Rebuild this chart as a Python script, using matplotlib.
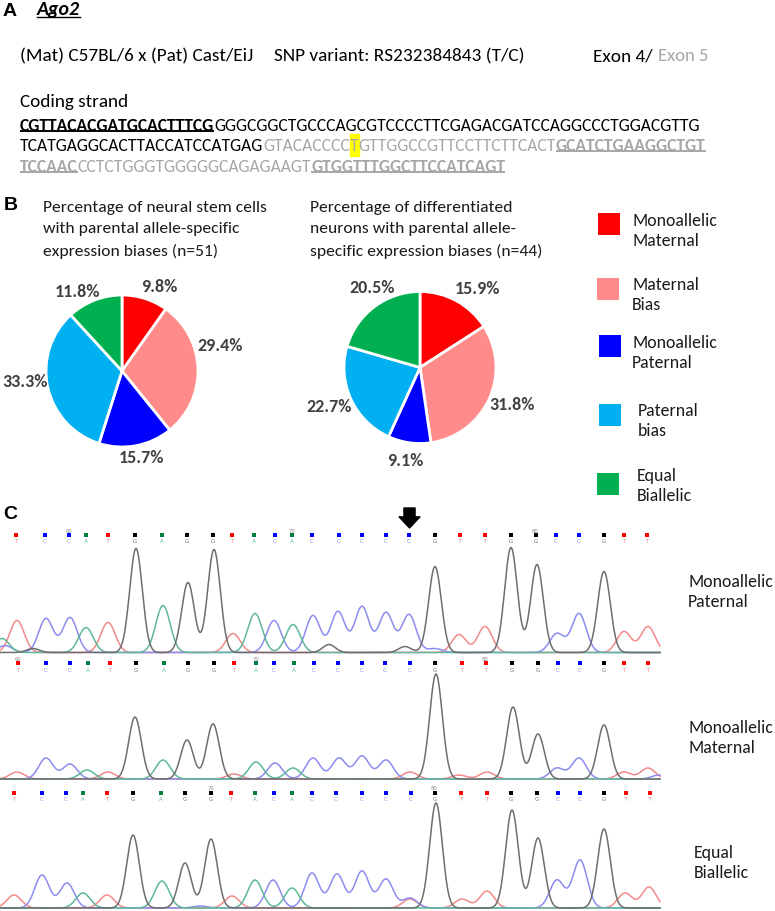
import logging
import numpy as np
import matplotlib
matplotlib.use("Agg")
import matplotlib.pyplot as plt
from matplotlib.patches import Rectangle

logging.getLogger("matplotlib.font_manager").setLevel(logging.ERROR)

W, H = 775, 912
BODY = ["Carlito", "Lato"]

# ---------- data ----------
legend_labels = ["Monoallelic\nMaternal", "Maternal\nBias", "Monoallelic\nPaternal", "Paternal\nbias", "Equal\nBiallelic"]
pie_colors = ["#FF0000", "#FF8B8B", "#0000FF", "#00B0F0", "#00B050"]
nsc_values = [9.8, 29.4, 15.7, 33.3, 11.8]
neuron_values = [15.9, 31.8, 9.1, 22.7, 20.5]

bases = list("TCCATGAGGTACACCCCCGTTGGCCGTT")
base_colors = {"T": "#FF0000", "C": "#0000FF", "A": "#008040", "G": "#000000"}
trace_colors = {"T": "#F28A8A", "C": "#8C8CF0", "A": "#5FB898", "G": "#6E6E6E"}

p1_calls = [16,45,69,86,108,135,162,187,213,232,254,275,292,312,339,362,386,409,435,460,485,511,536,556,579,604,624,647]
p2_calls = [18,46,70,88,110,136,164,188,214,234,256,274,294,314,338,362,385,410,435,462,486,512,538,558,580,604,624,648]
p3_calls = [14,42,66,83,107,133,161,185,211,231,255,274,292,312,336,362,386,411,435,461,487,511,537,558,580,604,626,650]

p1_T = ([17,108,233,459,485,624,648], [32,30,19,18,26,21,26])
p1_C = ([5,46,70,274,313,338,362,386,409,435,557,579], [7,34,35,32,37,41,46,40,38,4,19,39])
p1_A = ([2,86,163,255,293], [14,25,47,39,28])
p1_G = ([33,136,188,214,329,405,435,511,537,604], [4,104,70,103,8,6,86,105,88,81])

p2_T = ([17,108,234,410,459,487,624,648], [7,7,5,7,4,7,7,11])
p2_C = ([46,70,275,313,339,362,386,557,579,659], [21,15,16,21,21,23,19,11,21,4])
p2_A = ([87,163,256,293], [9,19,17,11])
p2_G = ([135,187,213,436,513,538,604], [62,39,55,105,72,45,54])

p3_T = ([14,107,232,410,462,487,625,649], [13,13,12,9,9,17,15,21])
p3_C = ([42,67,200,273,312,337,362,386,410,557,580], [33,25,2,28,35,34,37,29,10,28,48])
p3_A = ([83,162,255,292], [15,27,28,20])
p3_G = ([133,185,211,436,512,538,604], [73,45,69,105,98,70,79])

p1_numbers = [("60", 69), ("70", 292), ("80", 535)]
p2_numbers = [("60", 18), ("70", 256), ("80", 485)]
p3_numbers = [("70", 211), ("80", 434)]
side_labels = ["Monoallelic\nPaternal", "Monoallelic\nMaternal", "Equal\nBiallelic"]

seq1 = [("CGTTACACGATGCACTTTCG", True, "#000000"), ("GGGCGGCTGCCCAGCGTCCCCTTCGAGACGATCCAGGCCCTGGACGTTG", False, "#000000")]
seq2 = [("TCATGAGGCACTTACCATCCATGAG", False, "#000000"), ("GTACACCCC", False, "#A6A6A6"), ("T", False, "#A6A6A6"),
        ("GTTGGCCGTTCCTTCTTCACT", False, "#A6A6A6"), ("GCATCTGAAGGCTGT", True, "#A6A6A6")]
seq3 = [("TCCAAC", True, "#A6A6A6"), ("CCTCTGGGTGGGGGCAGAGAAGT", False, "#A6A6A6"), ("GTGGTTTGGCTTCCATCAGT", True, "#A6A6A6")]

# ---------- figure ----------
fig = plt.figure(figsize=(W / 100, H / 100), dpi=100, facecolor="white")


def px_axes(x0, y0, x1, y1, **kw):
    return fig.add_axes([x0 / W, 1 - y1 / H, (x1 - x0) / W, (y1 - y0) / H], **kw)


def draw_pie(values, cx, cy, r):
    ax = px_axes(cx - r, cy - r, cx + r, cy + r)
    wedges, _ = ax.pie(values, colors=pie_colors, startangle=90, counterclock=False,
                       wedgeprops=dict(edgecolor="white", linewidth=2))
    ax.set_xlim(-1, 1)
    ax.set_ylim(-1, 1)
    return wedges


draw_pie(nsc_values, 122, 372, 76)
draw_pie(neuron_values, 420, 368.5, 76)


def trace(ax, xs, peaks, code):
    sigma = 6.3 if code == "G" else 7.2
    pos, hts = peaks
    y = np.zeros_like(xs, dtype=float)
    for p, h in zip(pos, hts):
        y += h * np.exp(-0.5 * ((xs - p) / sigma) ** 2)
    ax.plot(xs, y, color=trace_colors[code], lw=1.1, solid_joinstyle="round")


def chrom(baseline, row_h, calls, numbers, T, C, A, G):
    top = baseline - row_h - 10
    ax = px_axes(0, top, 665, baseline + 1)
    ax.set_xlim(0, 665)
    ax.set_ylim(-1, row_h + 10)
    ax.axis("off")
    xs = np.linspace(0, 660, 1400)
    for peaks, code in ((T, "T"), (C, "C"), (A, "A"), (G, "G")):
        trace(ax, xs, peaks, code)
    for x, b in zip(calls, bases):
        ax.plot([x], [row_h], marker="s", ms=2.9, color=base_colors[b], mew=0, clip_on=False)
        ax.text(x, row_h - 6, b, color=trace_colors[b], fontsize=4, ha="center", va="center",
                family="DejaVu Sans", clip_on=False)
    for t, x in numbers:
        ax.text(x, row_h + 4.5, t, color="#8C8C8C", fontsize=3.8, ha="center", va="center",
                family="DejaVu Sans", clip_on=False)


chrom(653.5, 117.5, p1_calls, p1_numbers, p1_T, p1_C, p1_A, p1_G)
chrom(780, 116, p2_calls, p2_numbers, p2_T, p2_C, p2_A, p2_G)
chrom(909, 115.5, p3_calls, p3_numbers, p3_T, p3_C, p3_A, p3_G)

ov = fig.add_axes([0, 0, 1, 1], zorder=10)
ov.set_xlim(0, W)
ov.set_ylim(H, 0)
ov.axis("off")
ov.patch.set_alpha(0)


def txt(x, y, s, size=12.6, family=BODY, color="#000000", **kw):
    kw.setdefault("va", "center")
    return ov.text(x, y, s, fontsize=size, family=family, color=color, **kw)


renderer = fig.canvas.get_renderer()
inv = ov.transData.inverted()


def run(x, y, segs, size):
    spans = []
    for s, bold, col in segs:
        t = txt(x, y, s, size=size, color=col, fontweight="bold" if bold else "normal")
        bb = t.get_window_extent(renderer)
        x1 = inv.transform((bb.x1, bb.y0))[0]
        if bold:
            ov.plot([x, x1], [y + 6, y + 6], color=col, lw=1.4, solid_capstyle="butt")
        spans.append((x, x1))
        x = x1
    return spans


for s, x, y in (("A", 2.5, 11), ("B", 3.5, 205.5), ("C", 3, 515)):
    txt(x, y, s, size=14, family="Liberation Sans", fontweight="bold")
txt(37, 10, "Ago2", size=14.3, fontweight="bold", style="italic")
ov.plot([37, 80], [17.5, 17.5], color="k", lw=1)

HEAD = 13.9
txt(20, 56, "(Mat) C57BL/6 x (Pat) Cast/EiJ", size=HEAD)
txt(274, 56, "SNP variant: RS232384843 (T/C)", size=HEAD)
txt(593, 56, "Exon 4/", size=HEAD)
txt(658, 56, "Exon 5", size=13.4, color="#A6A6A6")
txt(20, 102, "Coding strand", size=13.8)

SEQ = 12.63
run(20, 126, seq1, SEQ)
spans = run(20, 146, seq2, SEQ)
ov.add_patch(Rectangle((spans[2][0], 135), spans[2][1] - spans[2][0], 22, color="#FFFF00", zorder=0))
run(20, 167, seq3, SEQ)

for y, s in ((208, "Percentage of neural stem cells"), (229, "with parental allele-specific"), (251, "expression biases (n=51)")):
    txt(43, y, s, color="#1a1a1a")
for y, s in ((208, "Percentage of differentiated"), (229, "neurons with parental allele-"), (251, "specific expression biases (n=44)")):
    txt(310, y, s, color="#1a1a1a")

nsc_xy = [(159, 287), (220, 346), (142, 458), (25, 382), (77, 292)]
neuron_xy = [(478, 289), (512, 405), (405, 461), (329, 407), (372, 288)]
for vals, xy in ((nsc_values, nsc_xy), (neuron_values, neuron_xy)):
    for v, (x, y) in zip(vals, xy):
        txt(x, y, f"{v:.1f}%", size=13, fontweight="bold", color="#404040", ha="center")

# legend layout: swatch left/top, label left/centre
swatch_xy = [(598, 214), (597, 279), (599, 336), (599, 405), (597, 474)]
label_xy = [(633, 231), (632, 295), (632, 353), (638, 421), (637, 486)]
for c, lab, (sx, sy), (lx, ly) in zip(pie_colors, legend_labels, swatch_xy, label_xy):
    ov.add_patch(Rectangle((sx, sy), 22, 22, facecolor=c, edgecolor="none"))
    txt(lx, ly, lab, size=12.8, color="#1a1a1a", linespacing=1.37)

ov.annotate("", xy=(409.5, 529), xytext=(409.5, 509),
            arrowprops=dict(width=8, headwidth=15, headlength=8, color="k", shrink=0))
for s, x, y in zip(side_labels, (688, 688, 694), (592, 738, 863)):
    txt(x, y, s, size=12.8, color="#1a1a1a", linespacing=1.37)

fig.savefig("out.png", dpi=100)
